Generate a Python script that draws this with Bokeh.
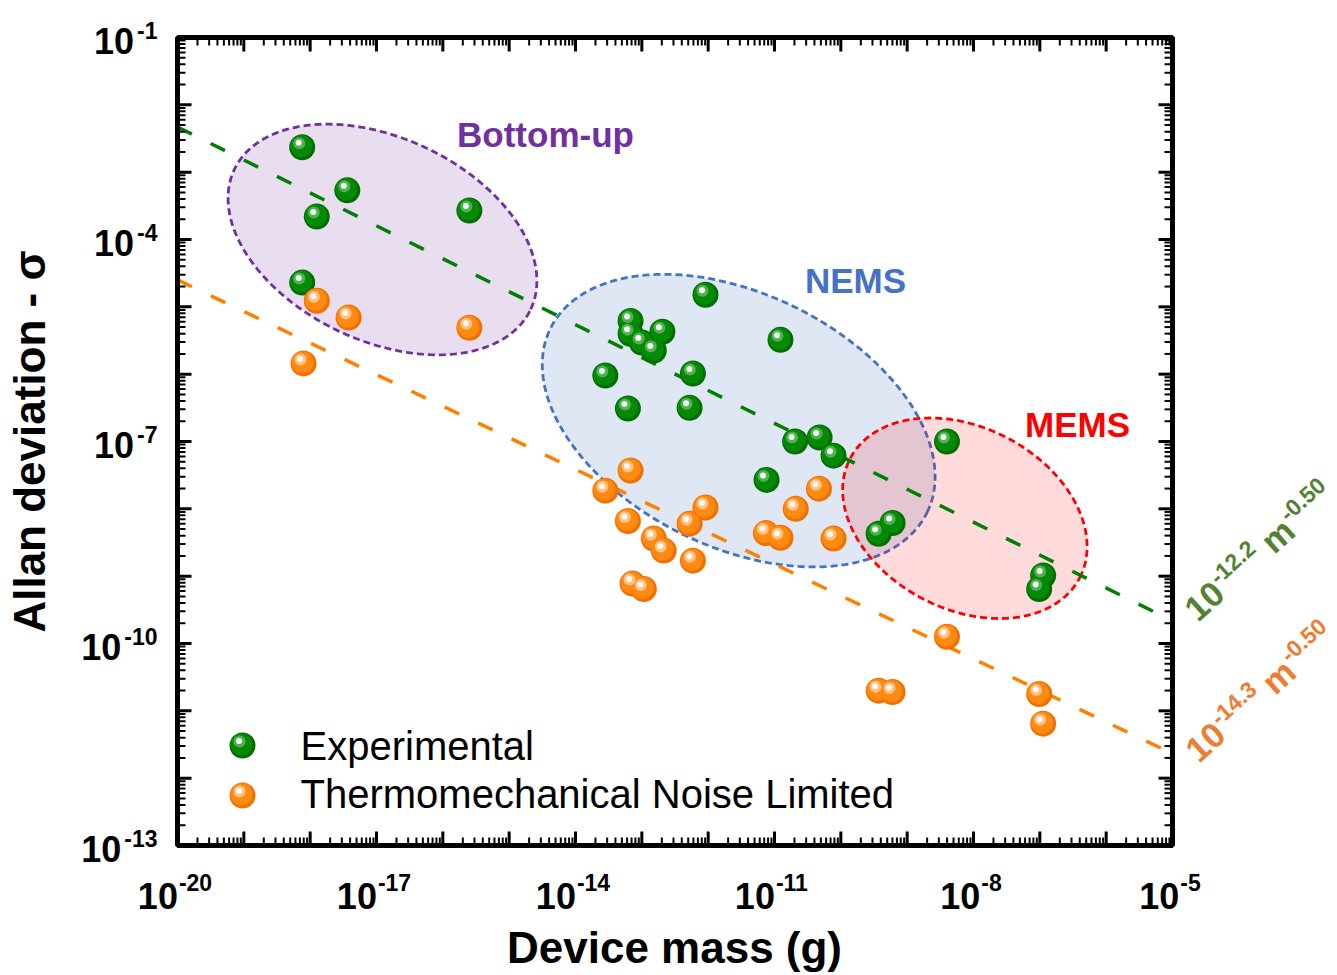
import math
import numpy as np
from bokeh.plotting import figure
from bokeh.models import Label
from bokeh.embed import file_html
from bokeh.resources import INLINE

# ---------------- data (log10 values) ----------------
series_names = ["Experimental", "Thermomechanical Noise Limited"]

exp_log_mass = [-18.12, -17.44, -17.90, -15.60, -18.12,
                -12.04, -13.17, -13.17, -13.00, -12.82, -12.69,
                -10.91, -13.55, -12.23, -13.21, -12.28,
                -10.69, -10.32, -10.11, -11.12,
                -9.43, -9.22, -8.40, -6.95, -7.01]
exp_log_sigma = [-2.63, -3.27, -3.66, -3.57, -4.64,
                 -4.82, -5.21, -5.40, -5.53, -5.65, -5.37,
                 -5.49, -6.02, -5.99, -6.51, -6.50,
                 -7.00, -6.94, -7.21, -7.57,
                 -8.37, -8.21, -7.00, -8.99, -9.19]

tm_log_mass = [-17.90, -17.42, -15.60, -18.10,
               -13.17, -13.55, -13.21, -12.82, -12.67, -12.23,
               -12.04, -12.28, -11.13, -10.91, -10.68, -10.33, -10.11,
               -13.14, -12.97,
               -8.40, -9.43, -9.22, -7.01, -6.95]
tm_log_sigma = [-4.91, -5.16, -5.31, -5.84,
                -7.43, -7.73, -8.18, -8.44, -8.62, -8.77,
                -7.98, -8.22, -8.36, -8.43, -8.00, -7.70, -8.44,
                -9.11, -9.19,
                -9.90, -10.70, -10.72, -10.75, -11.19]

# dashed trend lines: log10(sigma) = intercept + slope*log10(m)
fit_intercepts = [-12.11, -13.98]
fit_slopes = [-0.489, -0.469]
fit_label_coef = ["-12.2", "-14.3"]
fit_label_pow = ["-0.50", "-0.50"]

region_names = ["Bottom-up", "NEMS", "MEMS"]

x_label_exps = [-20, -17, -14, -11, -8, -5]
y_label_exps = [-1, -4, -7, -10, -13]
x_title = "Device mass (g)"
y_title = "Allan deviation - \u03c3"

# ---------------- layout / style ----------------
W, H = 1337, 975
FX0, FX1, FY0, FY1 = 177, 1172, 37, 845          # plot box in pixels
XLO, XHI, YLO, YHI = -20, -5, -13, -1             # plot box in log10 units
KX = (FX1 - FX0) / (XHI - XLO)
KY = (FY1 - FY0) / (YHI - YLO)
FONT = "Liberation Sans"
BASE_FIX = 0.36      # the renderer puts the alphabetic baseline this many em low

GREEN_SHADES = ["#006f00", "#048a04", "#5cb35c", "#f4fcf4"]
ORANGE_SHADES = ["#f07000", "#ff8a12", "#ffc68e", "#fffaf4"]
LINE_COLORS = ["#008000", "#ff8000"]
FIT_TEXT_COLORS = ["#548235", "#ed7d31"]

# ellipses: (center log m, center log sigma, semi-major, semi-minor [decades], tilt deg)
region_shapes = [(-16.91, -4.00, 2.47, 1.53, -25.2),
                 (-11.54, -6.69, 3.16, 1.91, -26.0),
                 (-8.13, -8.14, 1.95, 1.37, -27.4)]
region_line = ["#7030a0", "#4472c4", "#ff0000"]
region_alpha = [0.16, 0.17, 0.14]
region_text_pos = [(545, 147), (855, 293), (1077, 437)]


def lx_of(px):
    return XLO + (px - FX0) / KX


def ly_of(py):
    return YHI - (py - FY0) / KY


# the library frame covers the whole canvas; the log scales are set so that the
# plot box [1e-20, 1e-5] x [1e-13, 1e-1] lands at the reference's pixel box
p = figure(width=W, height=H, x_axis_type="log", y_axis_type="log",
           x_range=(10.0 ** lx_of(0), 10.0 ** lx_of(W)),
           y_range=(10.0 ** ly_of(H), 10.0 ** ly_of(0)),
           x_axis_location=None, y_axis_location=None,
           output_backend="svg", toolbar_location=None,
           min_border=0, min_border_left=0, min_border_right=0,
           min_border_top=0, min_border_bottom=0)
p.background_fill_color = "white"
p.border_fill_color = "white"
p.outline_line_color = None
p.xgrid.grid_line_color = None
p.ygrid.grid_line_color = None

# ---------------- region ellipses ----------------
t = np.linspace(0, 2 * np.pi, 240)
for (cx, cy, a, b, ang), col, al in zip(region_shapes, region_line, region_alpha):
    ph = math.radians(ang)
    ex = cx + a * np.cos(t) * math.cos(ph) - b * np.sin(t) * math.sin(ph)
    ey = cy + (a * np.cos(t) * math.sin(ph) + b * np.sin(t) * math.cos(ph)) * KX / KY
    p.patch(10.0 ** ex, 10.0 ** ey, fill_color=col, fill_alpha=al,
            line_color=col, line_alpha=1.0, line_width=2.8, line_dash="7 4")

# ---------------- dashed trend lines ----------------
xs = np.array([XLO, XHI], dtype=float)
for b0, s, col in zip(fit_intercepts, fit_slopes, LINE_COLORS):
    p.line(10.0 ** xs, 10.0 ** (b0 + s * xs), line_color=col, line_width=3.5,
           line_dash="16 21")


# ---------------- glossy balls ----------------
def balls(lx, ly, shades):
    lx = np.asarray(lx, dtype=float)
    ly = np.asarray(ly, dtype=float)
    layers = [(0, 0, 26, shades[0], 1.0), (-1, -1, 22, shades[1], 1.0),
              (-3, -4, 12, shades[2], 0.9), (-3.5, -4.5, 6, shades[3], 1.0)]
    for ox, oy, size, col, al in layers:
        p.scatter(10.0 ** (lx + ox / KX), 10.0 ** (ly - oy / KY), size=size,
                  fill_color=col, fill_alpha=al, line_color=None)


balls(exp_log_mass, exp_log_sigma, GREEN_SHADES)
balls(tm_log_mass, tm_log_sigma, ORANGE_SHADES)

# legend markers
balls([lx_of(242)], [ly_of(745)], GREEN_SHADES)
balls([lx_of(242)], [ly_of(795)], ORANGE_SHADES)

# ---------------- box and inward ticks on all four sides ----------------
p.quad(left=10.0 ** XLO, right=10.0 ** XHI, bottom=10.0 ** YLO, top=10.0 ** YHI,
       fill_color=None, line_color="black", line_width=5)

x_major = np.arange(XLO, XHI + 1, dtype=float)
x_minor = np.array([e + math.log10(k) for e in range(XLO, XHI) for k in range(2, 10)])
y_major = np.arange(YLO, YHI + 1, dtype=float)
y_minor = np.array([e + math.log10(k) for e in range(YLO, YHI) for k in range(2, 10)])

for ticks, L, lw in [(x_major, 14, 3), (x_minor, 8, 2)]:
    for edge, sgn in [(YLO, 1), (YHI, -1)]:
        p.segment(x0=10.0 ** ticks, y0=np.full(len(ticks), 10.0 ** edge),
                  x1=10.0 ** ticks, y1=np.full(len(ticks), 10.0 ** (edge + sgn * L / KY)),
                  line_color="black", line_width=lw)
for ticks, L, lw in [(y_major, 14, 3), (y_minor, 8, 2)]:
    for edge, sgn in [(XLO, 1), (XHI, -1)]:
        p.segment(x0=np.full(len(ticks), 10.0 ** edge), y0=10.0 ** ticks,
                  x1=np.full(len(ticks), 10.0 ** (edge + sgn * L / KX)), y1=10.0 ** ticks,
                  line_color="black", line_width=lw)


# ---------------- texts ----------------
def lab(px, py, text, size, color="black", bold=True, align="left", angle=0.0):
    # (px, py): wanted baseline anchor in screen pixels
    fix = BASE_FIX * size
    px = px - fix * math.sin(angle)
    py = py - fix * math.cos(angle)
    p.add_layout(Label(x=10.0 ** lx_of(px), y=10.0 ** ly_of(py), text=text,
                       text_font=FONT, text_font_size=f"{size}px",
                       text_font_style="bold" if bold else "normal",
                       text_color=color, text_align=align,
                       text_baseline="alphabetic", angle=angle))


BW = {"-": 0.333, ".": 0.278, "m": 0.889, " ": 0.278}


def tw(s, size):
    return sum(BW.get(c, 0.556) for c in s) * size


# x tick labels
for e in x_label_exps:
    tp = FX0 + (e - XLO) * KX
    es = str(e)
    total = tw("10", 36) + tw(es, 23)
    x0 = tp - 3 - total / 2
    lab(x0, 908, "10", 36)
    lab(x0 + tw("10", 36) + 1, 890, es, 23)

# y tick labels
for e in y_label_exps:
    tp = FY0 + (YHI - e) * KY
    es = str(e)
    lab(157, tp + 1, es, 23, align="right")
    lab(157 - tw(es, 23) - 3, tp + 16, "10", 36, align="right")

# axis titles
lab(45, 441, y_title, 44, align="center", angle=math.pi / 2)
lab(674, 963, x_title, 44, align="center")

# region names
for name, (tx, ty), col in zip(region_names, region_text_pos, region_line):
    lab(tx, ty, name, 35, color=col, align="center")

# legend texts
lab(300, 760, series_names[0], 40, bold=False)
lab(300, 808, series_names[1], 40, bold=False)

# rotated fit labels
theta = math.radians(42)
ux, uy = math.cos(theta), -math.sin(theta)      # along baseline (screen)
vx, vy = -math.sin(theta), -math.cos(theta)     # "up" (screen)
for (sx, sy), coef, pw, col in zip([(1198, 623), (1199, 764)], fit_label_coef,
                                   fit_label_pow, FIT_TEXT_COLORS):
    parts = [("10", 35, 0, 0.0), (coef, 23, 15, 1.0), ("m", 35, 0, tw(" ", 35)),
             (pw, 23, 15, 1.0)]
    adv = 0.0
    for txt, size, rise, pre in parts:
        adv += pre
        px = sx + adv * ux + rise * vx
        py = sy + adv * uy + rise * vy
        lab(px, py, txt, size, color=col, angle=theta)
        adv += tw(txt, size)

open("out.html", "w").write(file_html(p, INLINE))
